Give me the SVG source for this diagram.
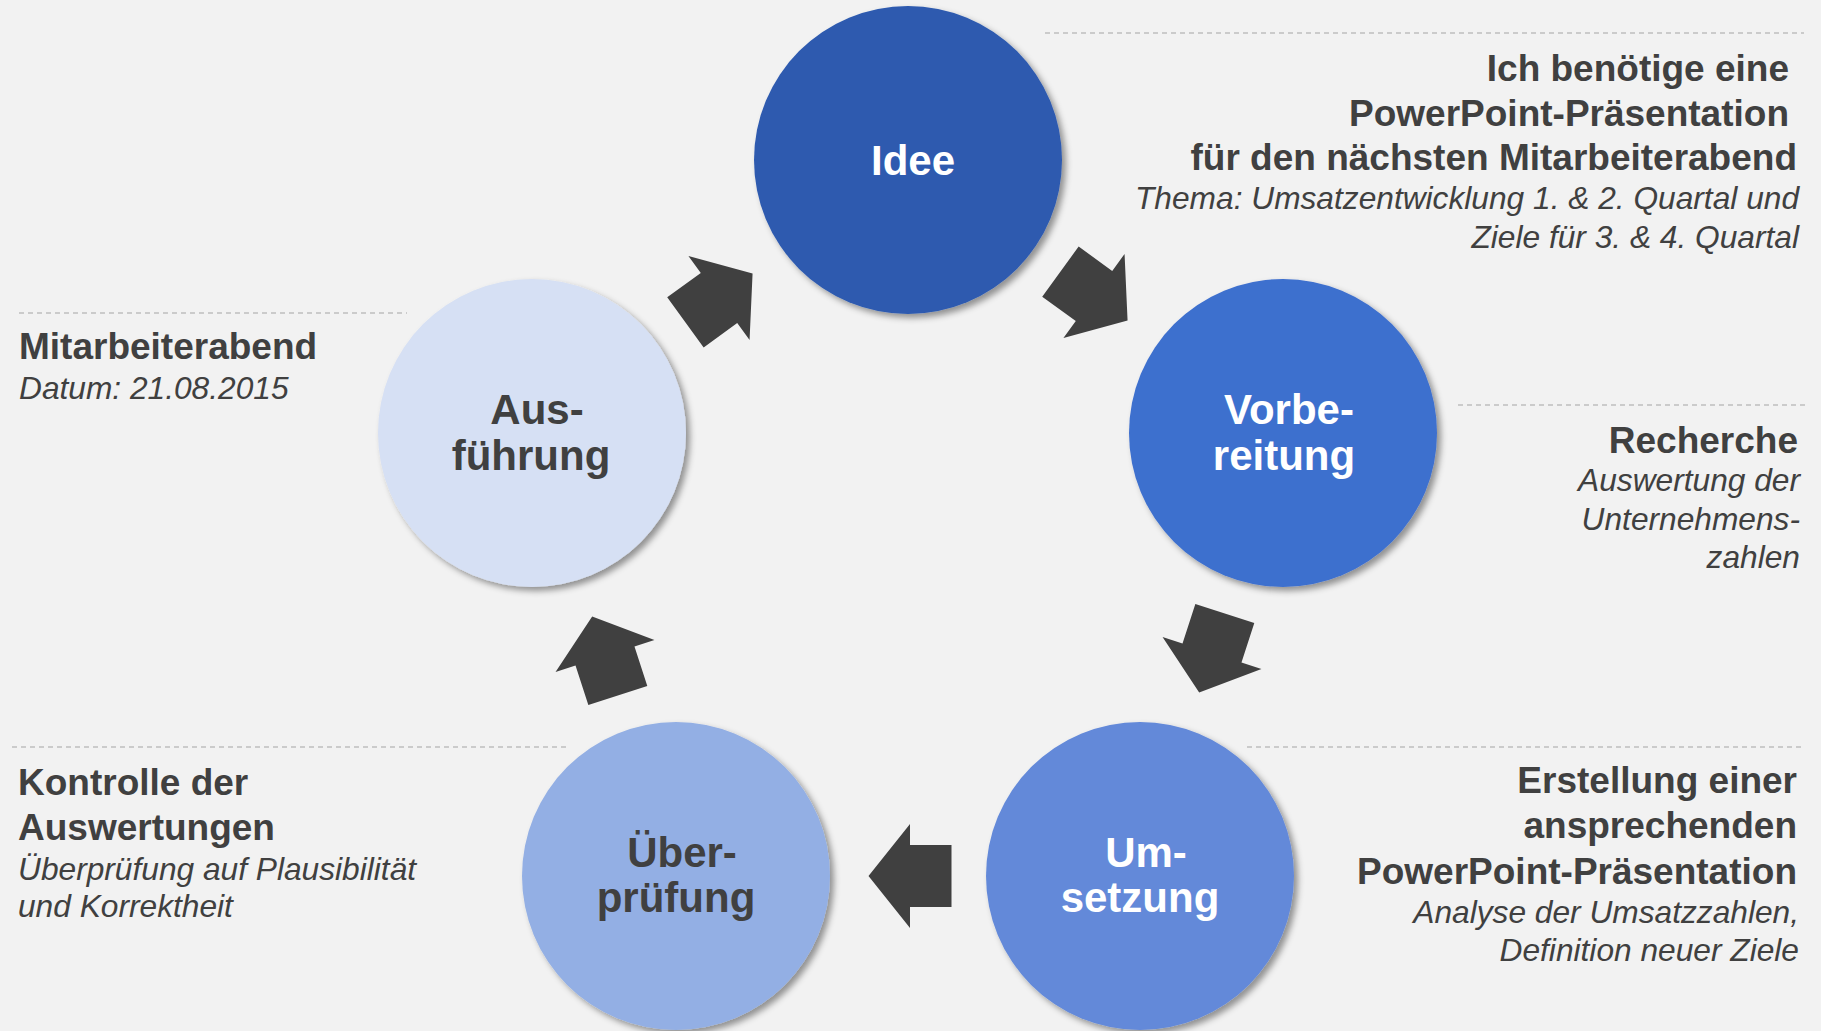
<svg xmlns="http://www.w3.org/2000/svg" xmlns:xlink="http://www.w3.org/1999/xlink" width="1821" height="1031" viewBox="0 0 1821 1031">
<style>
text{font-family:"Liberation Sans",Arial,sans-serif;fill:#404040}
.b{font-weight:bold;font-size:37px}
.i{font-style:italic;font-size:31.7px}
.c{font-weight:bold;font-size:42px;text-anchor:middle}
.w{fill:#ffffff}
.e{text-anchor:end}
.dash{stroke:#BFBFBF;stroke-width:1.5;stroke-dasharray:5 4;fill:none}
.arr{fill:#404040}
</style>
<defs>
<filter id="sh" x="-20%" y="-20%" width="150%" height="150%">
<feDropShadow dx="4" dy="4" stdDeviation="3" flood-color="#000" flood-opacity="0.4"/>
</filter>
<path id="arrow" d="M-41.5,-31 L0,-31 L0,-52 L41.5,0 L0,52 L0,31 L-41.5,31 Z"/>
</defs>
<rect width="1821" height="1031" fill="#F2F2F2"/>

<g id="dashes">
<line class="dash" x1="1045" y1="33" x2="1804" y2="33"/>
<line class="dash" x1="19" y1="313" x2="407" y2="313"/>
<line class="dash" x1="1458" y1="405" x2="1805" y2="405"/>
<line class="dash" x1="12" y1="747" x2="568" y2="747"/>
<line class="dash" x1="1247" y1="747" x2="1805" y2="747"/>
</g>

<g id="connectors" class="arr">
<use xlink:href="#arrow" transform="translate(1094,296) rotate(36)"/>
<use xlink:href="#arrow" transform="translate(1212,653) rotate(108)"/>
<use xlink:href="#arrow" transform="translate(910,876) rotate(180)"/>
<use xlink:href="#arrow" transform="translate(605,656) rotate(252)"/>
<use xlink:href="#arrow" transform="translate(719,298) rotate(324)"/>
</g>

<g id="node-idee">
<circle cx="908" cy="160" r="154" fill="#2D5AAF" filter="url(#sh)"/>
<text class="c w" x="913" y="175">Idee</text>
</g>
<g id="node-vorbereitung">
<circle cx="1283" cy="433" r="154" fill="#3E6FCE" filter="url(#sh)"/>
<text class="c w" x="1289" y="424">Vorbe-</text>
<text class="c w" x="1284" y="470">reitung</text>
</g>
<g id="node-umsetzung">
<circle cx="1140" cy="876" r="154" fill="#6389D9" filter="url(#sh)"/>
<text class="c w" x="1146" y="867">Um-</text>
<text class="c w" x="1140" y="912">setzung</text>
</g>
<g id="node-ueberpruefung">
<circle cx="676" cy="876" r="154" fill="#93AFE4" filter="url(#sh)"/>
<text class="c" x="682" y="867">Über-</text>
<text class="c" x="676" y="912">prüfung</text>
</g>
<g id="node-ausfuehrung">
<circle cx="532" cy="433" r="154" fill="#D6E0F4" filter="url(#sh)"/>
<text class="c" x="537" y="424">Aus-</text>
<text class="c" x="531" y="470">führung</text>
</g>

<g id="note-idee">
<text class="b e" x="1789" y="81">Ich benötige eine</text>
<text class="b e" x="1789" y="126">PowerPoint-Präsentation</text>
<text class="b e" x="1797" y="170">für den nächsten Mitarbeiterabend</text>
<text class="i e" x="1799" y="209">Thema: Umsatzentwicklung 1. &amp; 2. Quartal und</text>
<text class="i e" x="1799" y="248">Ziele für 3. &amp; 4. Quartal</text>
</g>
<g id="note-vorbereitung">
<text class="b e" x="1798" y="453">Recherche</text>
<text class="i e" x="1800" y="491">Auswertung der</text>
<text class="i e" x="1800" y="530">Unternehmens-</text>
<text class="i e" x="1800" y="568">zahlen</text>
</g>
<g id="note-umsetzung">
<text class="b e" x="1797" y="793">Erstellung einer</text>
<text class="b e" x="1797" y="838">ansprechenden</text>
<text class="b e" x="1797" y="884">PowerPoint-Präsentation</text>
<text class="i e" x="1799" y="923">Analyse der Umsatzzahlen,</text>
<text class="i e" x="1799" y="961">Definition neuer Ziele</text>
</g>
<g id="note-ueberpruefung">
<text class="b" x="18" y="795">Kontrolle der</text>
<text class="b" x="18" y="840">Auswertungen</text>
<text class="i" x="18" y="880">Überprüfung auf Plausibilität</text>
<text class="i" x="18" y="917">und Korrektheit</text>
</g>
<g id="note-ausfuehrung">
<text class="b" x="19" y="359">Mitarbeiterabend</text>
<text class="i" x="19" y="399">Datum: 21.08.2015</text>
</g>
</svg>
